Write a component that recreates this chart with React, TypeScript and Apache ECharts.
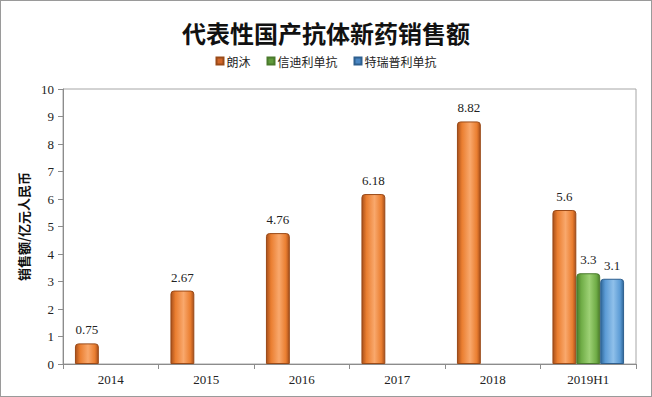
import React, { useEffect, useRef } from "react";
import * as echarts from "echarts";

const categories = ["2014", "2015", "2016", "2017", "2018", "2019H1"];
const seriesNames = ["朗沐", "信迪利单抗", "特瑞普利单抗"];
const langmu = [0.75, 2.67, 4.76, 6.18, 8.82, 5.6];
const xindili = [null, null, null, null, null, 3.3];
const teruipuli = [null, null, null, null, null, 3.1];

function grad(dark: string, mid: string, light: string) {
  return new echarts.graphic.LinearGradient(0, 0, 1, 0, [
    { offset: 0, color: dark },
    { offset: 0.2, color: mid },
    { offset: 0.55, color: light },
    { offset: 0.85, color: mid },
    { offset: 1, color: dark },
  ]);
}

export default function App() {
  const ref = useRef<HTMLDivElement>(null);
  useEffect(() => {
    document.body.style.margin = "0";
    const chart = echarts.init(ref.current!, null, { renderer: "svg" });
    const labelStyle = {
      show: true,
      position: "top" as const,
      distance: 7,
      fontFamily: "Liberation Serif",
      fontSize: 13,
      color: "#222",
    };
    const mk = (name: string, data: any[], g: any, edge: string) => ({
      name,
      type: "bar" as const,
      data,
      barGap: "0%",
      barCategoryGap: "25%",
      label: labelStyle,
      itemStyle: { color: g, borderColor: edge, borderWidth: 1, borderRadius: [3, 3, 0, 0] },
      emphasis: { disabled: true },
    });
    chart.setOption({
      animation: false,
      backgroundColor: "#fff",
      title: {
        text: "代表性国产抗体新药销售额",
        left: "center",
        top: 14,
        textStyle: { fontFamily: "Noto Sans CJK SC", fontSize: 24, fontWeight: "bold", color: "#111" },
      },
      legend: {
        top: 49,
        left: "center",
        itemWidth: 7,
        itemHeight: 7,
        itemGap: 16,
        icon: "rect",
        textStyle: { fontFamily: "Noto Sans CJK SC", fontSize: 12, color: "#222", padding: [0, 0, 0, -2] },
        data: [
          { name: seriesNames[0], itemStyle: { color: "#D0662A" } },
          { name: seriesNames[1], itemStyle: { color: "#5F9A3B" } },
          { name: seriesNames[2], itemStyle: { color: "#4A86C2" } },
        ],
      },
      grid: { left: 62, right: 15, top: 88, bottom: 32, show: true, borderColor: "#a6a6a6", borderWidth: 1 },
      xAxis: {
        type: "category",
        data: categories,
        axisLine: { lineStyle: { color: "#8c8c8c" } },
        axisTick: { show: true, length: 5, lineStyle: { color: "#8c8c8c" } },
        axisLabel: { fontFamily: "Liberation Serif", fontSize: 13, color: "#222", margin: 9 },
      },
      yAxis: {
        type: "value",
        min: 0,
        max: 10,
        interval: 1,
        name: "销售额/亿元人民币",
        nameLocation: "middle",
        nameRotate: 90,
        nameGap: 28,
        nameTextStyle: { fontFamily: "Noto Sans CJK SC", fontSize: 13, fontWeight: "bold", color: "#111" },
        axisLine: { show: true, lineStyle: { color: "#8c8c8c" } },
        axisTick: { show: true, length: 5, lineStyle: { color: "#8c8c8c" } },
        splitLine: { show: false },
        axisLabel: { fontFamily: "Liberation Serif", fontSize: 13, color: "#222", margin: 9 },
      },
      series: [
        mk(seriesNames[0], langmu, grad("#A9501B", "#EA7E30", "#F9A86C"), "#9A4A18"),
        mk(seriesNames[1], xindili, grad("#4C7E2C", "#70AD47", "#9DD175"), "#4A7A2C"),
        mk(seriesNames[2], teruipuli, grad("#2F6698", "#5B9BD5", "#8FC0EA"), "#2E5F8E"),
      ],
    });
    return () => chart.dispose();
  }, []);
  return (
    <div
      style={{
        position: "absolute",
        left: 0,
        top: 0,
        width: 652,
        height: 397,
        boxSizing: "border-box",
        border: "1px solid #9a9a9a",
        background: "#fff",
      }}
    >
      <div ref={ref} style={{ width: 650, height: 395 }} />
    </div>
  );
}
